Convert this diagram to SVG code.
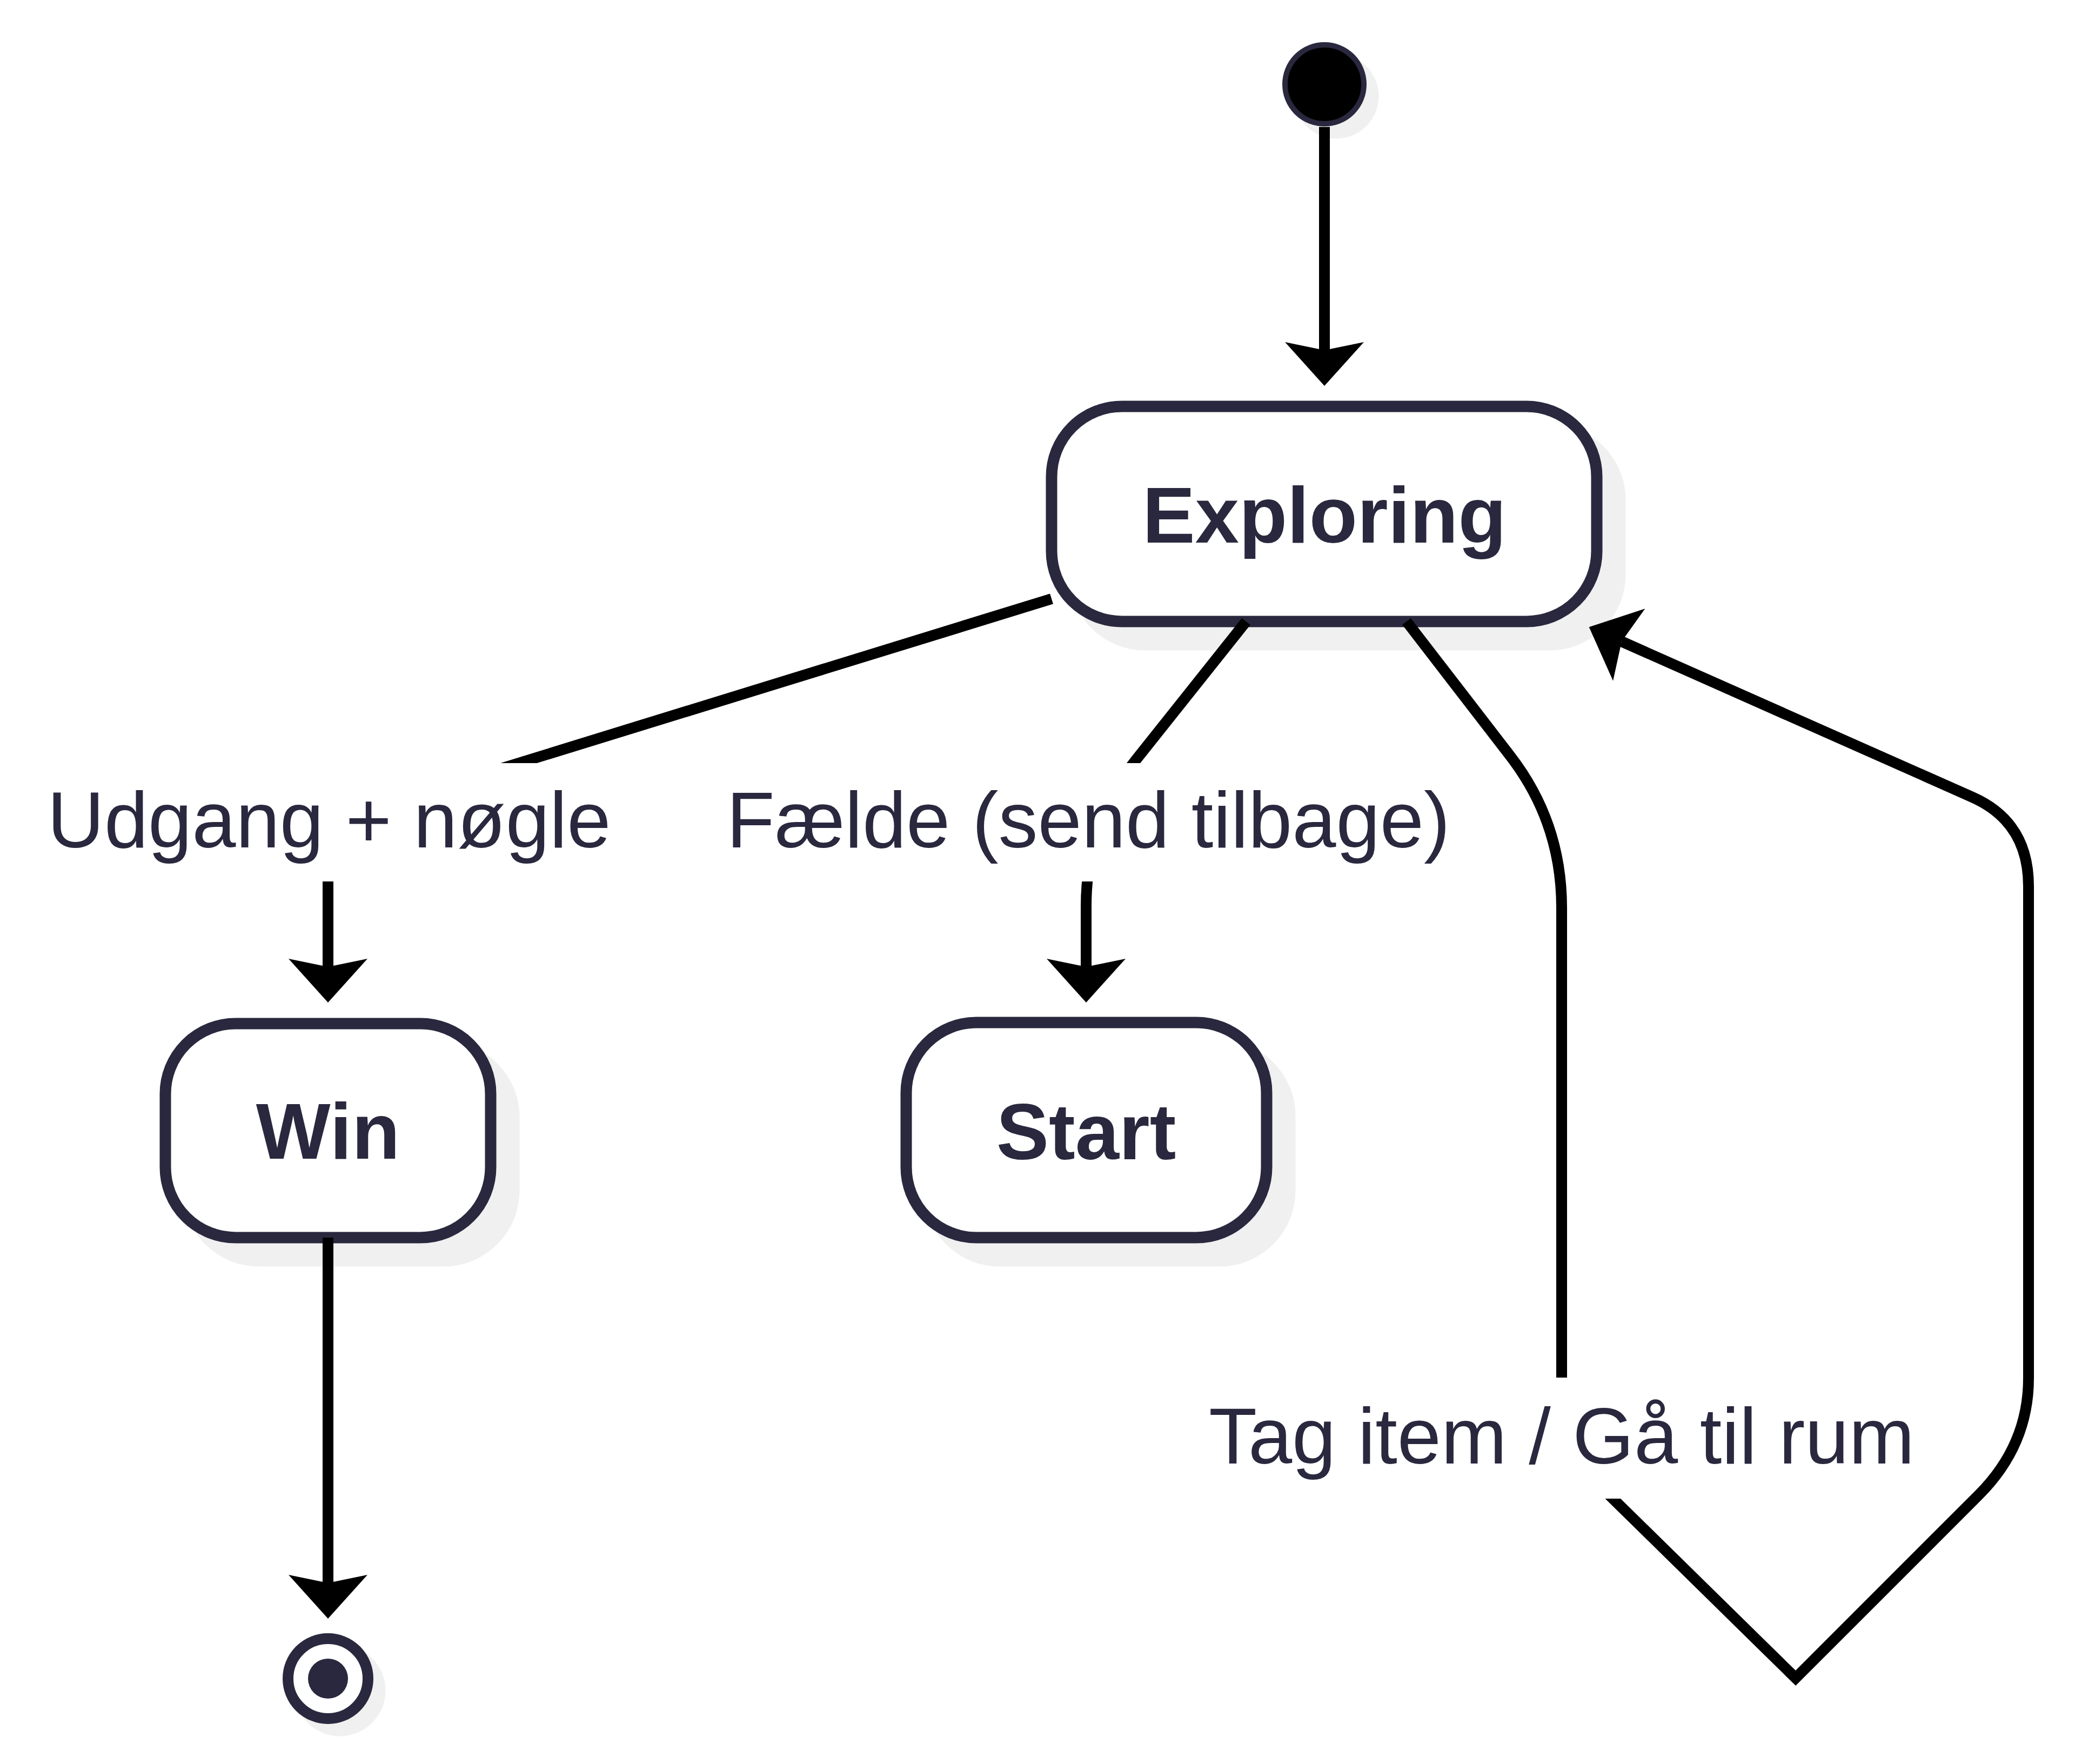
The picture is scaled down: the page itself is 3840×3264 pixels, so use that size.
<svg xmlns="http://www.w3.org/2000/svg" width="3840" height="3264" viewBox="0 0 3840 3264">
  <style>
    .shadow { fill: #f0f0f0; stroke: #f0f0f0; }
    .state { fill: #ffffff; stroke: #29283e; stroke-width: 21; }
    .name { font-family: "Liberation Sans", Arial, sans-serif; font-size: 146px; font-weight: bold; fill: #29283e; text-anchor: middle; }
    .edge { fill: none; stroke: #000000; stroke-width: 20; stroke-linejoin: miter; }
    .lbg { fill: #ffffff; }
    .lbl { font-family: "Liberation Sans", Arial, sans-serif; font-size: 146px; fill: #29283e; text-anchor: middle; }
  </style>
  <defs>
    <marker id="arr" markerUnits="userSpaceOnUse" markerWidth="100" markerHeight="160" viewBox="-20 -80 100 160" refX="0" refY="0" orient="auto" overflow="visible">
      <path d="M66,0 L-15,-73 L0,0 L-15,73 Z" fill="#000000"/>
    </marker>
  </defs>
  <rect width="3840" height="3264" fill="#ffffff"/>

  <g id="initial">
    <circle class="shadow" cx="2473" cy="178" r="78"/>
    <circle cx="2451" cy="156" r="73" fill="#000000" stroke="#29283e" stroke-width="10"/>
  </g>

  <g id="exploring">
    <rect class="shadow" x="1989" y="795" width="1009" height="398" rx="130" ry="130" stroke-width="21"/>
    <rect class="state" x="1946" y="752" width="1009" height="398" rx="130" ry="130"/>
    <text class="name" x="2451" y="1004">Exploring</text>
  </g>

  <g id="win">
    <rect class="shadow" x="349" y="1937" width="602" height="396" rx="130" ry="130" stroke-width="21"/>
    <rect class="state" x="306" y="1894" width="602" height="396" rx="130" ry="130"/>
    <text class="name" x="607" y="2144">Win</text>
  </g>

  <g id="start">
    <rect class="shadow" x="1720" y="1935" width="667" height="398" rx="130" ry="130" stroke-width="21"/>
    <rect class="state" x="1677" y="1892" width="667" height="398" rx="130" ry="130"/>
    <text class="name" x="2010" y="2145">Start</text>
  </g>

  <g id="final">
    <circle class="shadow" cx="629" cy="3128" r="84"/>
    <circle cx="607" cy="3106" r="74" fill="#ffffff" stroke="#29283e" stroke-width="20"/>
    <circle cx="607" cy="3106" r="37" fill="#29283e"/>
  </g>

  <g id="connectors">
    <path class="edge" d="M2451,235 L2451,648" marker-end="url(#arr)"/>
    <path class="edge" d="M1946,1108 L707,1490 Q607,1521 607,1621 L607,1789" marker-end="url(#arr)"/>
    <path class="edge" d="M2306,1150 L2103,1405 Q2010,1522 2010,1677 L2010,1789" marker-end="url(#arr)"/>
    <path class="edge" d="M607,2290 L607,2929" marker-end="url(#arr)"/>
    <path class="edge" d="M2603,1150 L2795,1399 Q2890,1522 2890,1680 L2890,2680 L3323,3105 L3662,2766 Q3754,2674 3754,2550 L3754,1640 Q3754,1521 3650,1475 L3001,1187" marker-end="url(#arr)"/>

    <rect class="lbg" x="80" y="1412" width="1058" height="219"/>
    <text class="lbl" x="609" y="1568">Udgang + nøgle</text>

    <rect class="lbg" x="1335" y="1412" width="1358" height="219"/>
    <text class="lbl" x="2014" y="1568">Fælde (send tilbage)</text>

    <rect class="lbg" x="2224" y="2549" width="1332" height="224"/>
    <text class="lbl" x="2890" y="2708">Tag item / Gå til rum</text>
  </g>
</svg>
